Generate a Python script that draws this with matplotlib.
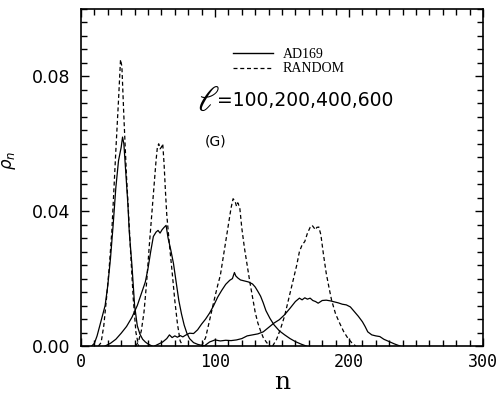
import matplotlib
matplotlib.use("Agg")
import matplotlib.pyplot as plt
from matplotlib.ticker import MultipleLocator, FixedLocator
from matplotlib.lines import Line2D

# ---------------- data ----------------
# AD169, l=100
ad100_x = [8, 10, 12, 14, 16, 18, 19, 20, 22, 24, 26, 28, 30, 31, 32, 33, 35, 36, 38, 40, 42, 44, 46, 48, 50, 53]
ad100_y = [0, 0.0008, 0.003, 0.006, 0.009, 0.012, 0.015, 0.018, 0.026, 0.036, 0.047, 0.055, 0.059, 0.062,
           0.060, 0.054, 0.042, 0.034, 0.024, 0.012, 0.006, 0.0035, 0.002, 0.0012, 0.0006, 0]
# RANDOM, l=100
rnd100_x = [13, 15, 17, 19, 21, 23, 24, 26, 28, 29.5, 30.5, 32, 34, 35, 37, 39, 41, 43]
rnd100_y = [0, 0.001, 0.006, 0.014, 0.023, 0.034, 0.042, 0.058, 0.073, 0.085, 0.083, 0.068, 0.050, 0.043,
            0.028, 0.014, 0.004, 0]
# AD169, l=200
ad200_x = [18, 22, 26, 30, 34, 38, 42, 45, 48, 50, 52, 54, 56, 57.5, 59, 60.5, 62, 63.5, 65, 67, 69, 71, 73,
           75, 77, 79, 81, 84, 87, 90, 93]
ad200_y = [0, 0.0008, 0.002, 0.0038, 0.0058, 0.0085, 0.012, 0.0155, 0.019, 0.023, 0.028, 0.0325, 0.0338,
           0.0343, 0.0335, 0.0345, 0.0352, 0.0358, 0.032, 0.0285, 0.0245, 0.019, 0.0135, 0.0095, 0.0062,
           0.0038, 0.0022, 0.001, 0.0005, 0.0002, 0]
# RANDOM, l=200
rnd200_x = [41, 43, 45, 47, 49, 51, 53, 55, 56, 57, 58, 59, 60, 61, 62, 63, 64, 66, 68, 70, 72, 74, 76]
rnd200_y = [0, 0.0015, 0.0045, 0.010, 0.019, 0.030, 0.040, 0.050, 0.055, 0.059, 0.060, 0.0585, 0.059, 0.060,
            0.054, 0.046, 0.039, 0.030, 0.022, 0.0135, 0.0065, 0.0015, 0]
# AD169, l=400
ad400_x = [55, 58, 61, 64, 66, 68, 70, 72, 74, 76, 78, 81, 84, 87, 90, 93, 96, 99, 102, 105, 108, 111, 113,
           114.5, 115.5, 117, 119, 122, 125, 128, 130, 132, 134, 136, 138, 141, 144, 148, 152, 156, 160, 164, 168]
ad400_y = [0, 0.0006, 0.0012, 0.0022, 0.0033, 0.0025, 0.003, 0.0026, 0.0031, 0.0027, 0.0032, 0.0038, 0.0037,
           0.0048, 0.0065, 0.008, 0.0098, 0.012, 0.0145, 0.0165, 0.0183, 0.0195, 0.0200, 0.0218, 0.0208,
           0.0202, 0.0196, 0.0193, 0.019, 0.0184, 0.0175, 0.0162, 0.0148, 0.0128, 0.0105, 0.0082, 0.0063,
           0.0045, 0.0033, 0.0022, 0.0013, 0.0006, 0]
# RANDOM, l=400
rnd400_x = [90, 93, 96, 99, 102, 104, 106, 108, 110, 112, 113.5, 115, 116, 117, 118.5, 120, 122, 124, 126,
            128, 130, 132, 134, 136, 138.6, 141]
rnd400_y = [0, 0.0025, 0.0077, 0.013, 0.018, 0.021, 0.026, 0.031, 0.036, 0.041, 0.0437, 0.043, 0.0415,
            0.0425, 0.041, 0.035, 0.029, 0.024, 0.019, 0.0145, 0.010, 0.0068, 0.0045, 0.0025, 0.001, 0]
# AD169, l=600
ad600_x = [92, 96, 100, 104, 108, 112, 116, 120, 124, 128, 132, 136, 140, 144, 148, 152, 156, 160, 163, 165,
           167, 169, 171, 173, 175, 177, 180, 183, 186, 189, 192, 195, 198, 201, 204, 207, 210, 212, 214, 217,
           220, 223, 226, 230, 234, 238]
ad600_y = [0, 0.0012, 0.0018, 0.0015, 0.0017, 0.0016, 0.0018, 0.0022, 0.003, 0.0033, 0.0036, 0.0042, 0.0055,
           0.0068, 0.0078, 0.0093, 0.0112, 0.0132, 0.0142, 0.0137, 0.0143, 0.0139, 0.0142, 0.0135, 0.0132,
           0.0127, 0.0135, 0.0136, 0.0134, 0.0131, 0.0128, 0.0124, 0.0122, 0.0116, 0.0102, 0.0088, 0.0072,
           0.0058, 0.0042, 0.0033, 0.0030, 0.0028, 0.002, 0.0013, 0.0006, 0]
# RANDOM, l=600
rnd600_x = [143, 146, 149, 152, 155, 158, 161, 163, 165, 167, 169, 171, 172.5, 174, 175, 176, 177.5, 179,
            181, 183, 185, 187, 190, 193, 196, 199, 202, 205]
rnd600_y = [0, 0.002, 0.0052, 0.009, 0.014, 0.019, 0.024, 0.028, 0.030, 0.031, 0.0335, 0.0352, 0.0358,
            0.035, 0.0345, 0.0352, 0.0353, 0.033, 0.027, 0.0216, 0.0175, 0.0136, 0.0095, 0.0068, 0.0043,
            0.0024, 0.001, 0]

solid_series = [(ad100_x, ad100_y), (ad200_x, ad200_y), (ad400_x, ad400_y), (ad600_x, ad600_y)]
dashed_series = [(rnd100_x, rnd100_y), (rnd200_x, rnd200_y), (rnd400_x, rnd400_y), (rnd600_x, rnd600_y)]

legend_labels = ["AD169", "RANDOM"]
x_ticks = [0, 100, 200, 300]
x_ticklabels = ["0", "100", "200", "300"]
y_ticks = [0.0, 0.04, 0.08]
y_ticklabels = ["0.00", "0.04", "0.08"]

# ---------------- figure ----------------
fig = plt.figure(figsize=(5.01, 3.95), dpi=100)
ax = fig.add_axes([81 / 501, 1 - 346 / 395, 402 / 501, 337 / 395])

lw = 0.9
for xs, ys in solid_series:
    ax.plot(xs, ys, color="black", lw=lw, linestyle="-")
for xs, ys in dashed_series:
    ax.plot(xs, ys, color="black", lw=lw, linestyle=(0, (3.2, 2.2)))

ax.set_xlim(0, 300)
ax.set_ylim(0, 0.1)

ax.xaxis.set_major_locator(FixedLocator(x_ticks))
ax.xaxis.set_minor_locator(MultipleLocator(10))
ax.yaxis.set_major_locator(FixedLocator(y_ticks))
ax.yaxis.set_minor_locator(MultipleLocator(0.004))
ax.set_xticklabels(x_ticklabels, fontfamily="DejaVu Sans Mono", fontsize=12)
ax.set_yticklabels(y_ticklabels, fontfamily="DejaVu Sans", fontsize=12.5)

ax.tick_params(which="both", direction="in", top=True, right=True, width=1.0)
ax.tick_params(which="major", length=6)
ax.tick_params(which="minor", length=4)
ax.tick_params(axis="x", which="major", pad=5)
ax.tick_params(axis="y", which="major", pad=8)
for s in ax.spines.values():
    s.set_linewidth(1.2)

ax.set_xlabel("n", fontfamily="DejaVu Serif", fontsize=18, labelpad=0)
ax.set_ylabel(r"$\rho_n$", fontsize=12)
ax.yaxis.set_label_coords(-0.157, 0.55)

# legend
handles = [Line2D([], [], color="black", lw=1.0, linestyle="-"),
           Line2D([], [], color="black", lw=0.9, linestyle=(0, (3.2, 2.2)))]
ax.legend(handles, legend_labels, loc="upper left", bbox_to_anchor=((233 - 81) / 402, 1 - (48 - 9) / 337),
          frameon=False, prop={"family": "Liberation Serif", "size": 10}, handlelength=2.9,
          handletextpad=0.7, labelspacing=0.1, borderpad=0, borderaxespad=0)

# annotations
ax.text(86.6, 0.0699, r"$\ell$", math_fontfamily="stix", fontsize=26, va="baseline", ha="left")
ax.text(101.5, 0.0713, "=100,200,400,600", fontfamily="DejaVu Sans", fontsize=13.5, va="baseline", ha="left")
ax.text(92.5, 0.0595, "(G)", fontfamily="DejaVu Sans", fontsize=10, va="baseline", ha="left")

fig.savefig("out.png", dpi=100)
